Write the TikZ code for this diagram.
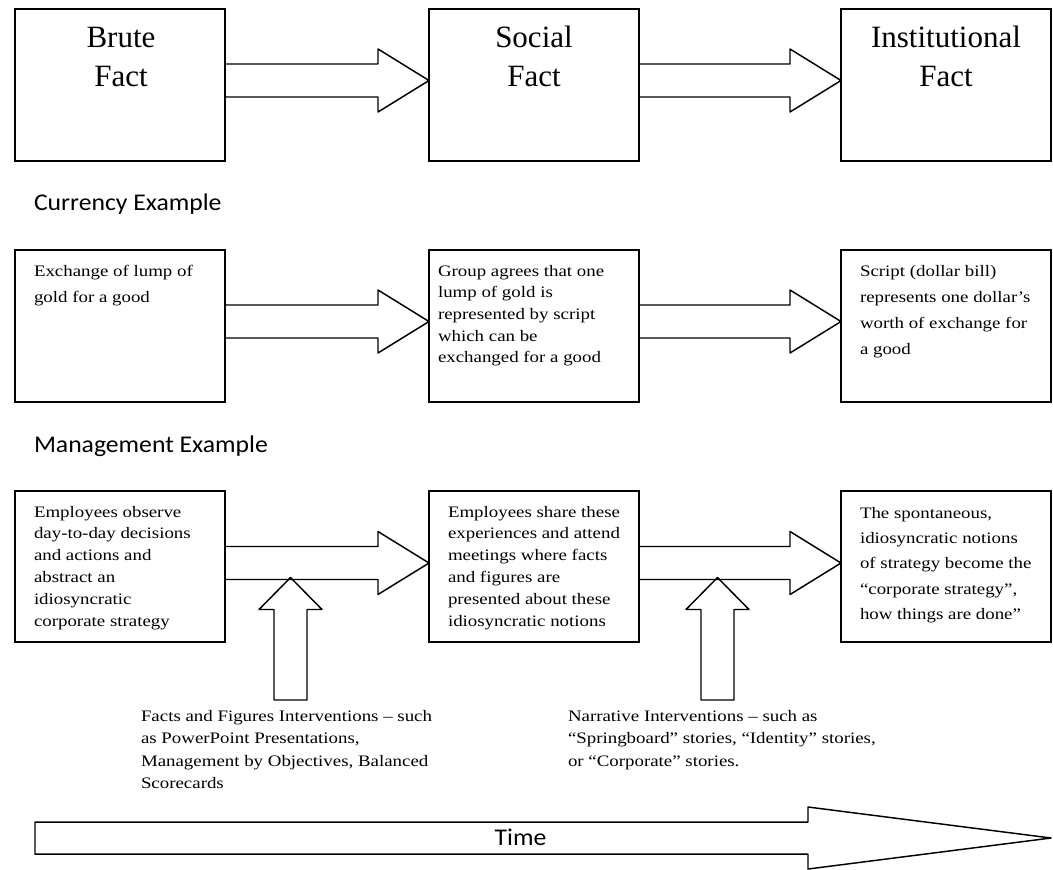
\documentclass[tikz,border=0pt]{standalone}
\usepackage{fontspec}
\setmainfont{Liberation Serif}
\newfontfamily\bodyfont[FakeStretch=1.18]{Liberation Serif}
\newfontfamily\titlefont{Liberation Serif}
\newfontfamily\labelfont[FakeStretch=1.07]{Carlito}
\usetikzlibrary{calc}
% horizontal block arrow from #1 to #2 (same height)
\newcommand\blockarrowH[2]{%
  \draw[barrow] ($(#1)+(0,-16.5)$) -- ($(#2)+(-51,-16.5)$) -- ($(#2)+(-51,-31.5)$)
    -- (#2) -- ($(#2)+(-51,31.5)$) -- ($(#2)+(-51,16.5)$) -- ($(#1)+(0,16.5)$);}
% vertical block arrow from foot #1 up to tip #2
\newcommand\blockarrowV[2]{%
  \draw[barrow] (#2) -- ($(#2)+(31.5,32)$) -- ($(#2)+(16.5,32)$) -- ($(#1)+(16.5,0)$)
    -- ($(#1)+(-16.5,0)$) -- ($(#2)+(-16.5,32)$) -- ($(#2)+(-31.5,32)$) -- cycle;}
\newcommand\bodytext[2]{\parbox[t]{300pt}{\bodyfont\fontsize{12pt}{#1}\selectfont #2}}
\newcommand\titletext[1]{\parbox[t]{157.5pt}{\centering\titlefont\fontsize{23.25pt}{29.25pt}\selectfont #1}}
\begin{document}
\begin{tikzpicture}[x=0.75pt,y=-0.75pt,
  box/.style={draw, line width=1.1pt, inner sep=0pt, outer sep=0pt, anchor=north west,
    minimum width=157.5pt, minimum height=114pt},
  barrow/.style={draw, line width=1.1pt, line join=round},
  btxt/.style={anchor=base west, inner sep=0pt, outer sep=0pt},
  ttxt/.style={anchor=base, inner sep=0pt, outer sep=0pt},
  lab/.style={inner sep=0pt, outer sep=0pt, font=\labelfont\fontsize{18pt}{22pt}\selectfont}]
\useasboundingbox (0,0) rectangle (1053,869);

% ---- top row
\node[box] (b1) at (15,9) {};
\node[box] (b2) at (429,9) {};
\node[box] (b3) at (841,9) {};
\node[ttxt] (b1t) at (121,47) {\titletext{Brute\\Fact}};
\node[ttxt] (b2t) at (534,47) {\titletext{Social\\Fact}};
\node[ttxt] (b3t) at (946,47) {\titletext{Institutional\\Fact}};
\coordinate (t12s) at ($(b1.east)+(0,-4.5)$);
\coordinate (t12e) at ($(b2.west)+(0,-4.5)$);
\coordinate (t23s) at ($(b2.east)+(0,-4.5)$);
\coordinate (t23e) at ($(b3.west)+(0,-4.5)$);
\blockarrowH{t12s}{t12e}
\blockarrowH{t23s}{t23e}

% ---- currency row
\node[lab, anchor=base west] (cur) at (34,210) {Currency Example};
\node[box] (m1) at (15,250) {};
\node[box] (m2) at (429,250) {};
\node[box] (m3) at (841,250) {};
\node[btxt] (m1t) at (34,276) {\bodytext{19.5pt}{Exchange of lump of\\gold for a good}};
\node[btxt] (m2t) at (438,276) {\bodytext{16.3pt}{Group agrees that one\\lump of gold is\\represented by script\\which can be\\exchanged for a good}};
\node[btxt] (m3t) at (860,276) {\bodytext{19.5pt}{Script (dollar bill)\\represents one dollar’s\\worth of exchange for\\a good}};
\coordinate (m12s) at ($(m1.east)+(0,-4.5)$);
\coordinate (m12e) at ($(m2.west)+(0,-4.5)$);
\coordinate (m23s) at ($(m2.east)+(0,-4.5)$);
\coordinate (m23e) at ($(m3.west)+(0,-4.5)$);
\blockarrowH{m12s}{m12e}
\blockarrowH{m23s}{m23e}

% ---- management row
\node[lab, anchor=base west] (mgt) at (34,452) {Management Example};
\node[box, minimum height=113.25pt] (n1) at (15,491) {};
\node[box, minimum height=113.25pt] (n2) at (429,491) {};
\node[box, minimum height=113.25pt] (n3) at (841,491) {};
\node[btxt] (n1t) at (34,517) {\bodytext{16.35pt}{Employees observe\\day-to-day decisions\\and actions and\\abstract an\\idiosyncratic\\corporate strategy}};
\node[btxt] (n2t) at (448,517) {\bodytext{16.35pt}{Employees share these\\experiences and attend\\meetings where facts\\and figures are\\presented about these\\idiosyncratic notions}};
\node[btxt] (n3t) at (860,518) {\bodytext{19.1pt}{The spontaneous,\\idiosyncratic notions\\of strategy become the\\“corporate strategy”,\\how things are done”}};
\coordinate (n12s) at ($(n1.east)+(0,-3.5)$);
\coordinate (n12e) at ($(n2.west)+(0,-3.5)$);
\coordinate (n23s) at ($(n2.east)+(0,-3.5)$);
\coordinate (n23e) at ($(n3.west)+(0,-3.5)$);
\blockarrowH{n12s}{n12e}
\blockarrowH{n23s}{n23e}

% ---- interventions
\coordinate (n12low) at ($(n12s)+(0,14.5)$);
\coordinate (n23low) at ($(n23s)+(0,14.5)$);
\coordinate (f1) at (290.5,700);
\coordinate (f2) at (717.5,700);
\coordinate (f1t) at (f1 |- n12low);
\coordinate (f2t) at (f2 |- n23low);
\blockarrowV{f1}{f1t}
\blockarrowV{f2}{f2t}
\node[btxt] (facts) at (141,721) {\bodytext{16.9pt}{Facts and Figures Interventions – such\\as PowerPoint Presentations,\\Management by Objectives, Balanced\\Scorecards}};
\node[btxt] (narr) at (568,721) {\bodytext{16.9pt}{Narrative Interventions – such as\\“Springboard” stories, “Identity” stories,\\or “Corporate” stories.}};

% ---- time arrow
\coordinate (ts) at (35,838);
\coordinate (te) at (1051,838);
\draw[barrow] ($(ts)+(0,-16)$) -- ($(te)+(-243,-16)$) -- ($(te)+(-243,-31)$) -- (te)
  -- ($(te)+(-243,31)$) -- ($(te)+(-243,16)$) -- ($(ts)+(0,16)$) -- cycle;
\node[lab, anchor=base] (time) at (520.5,845) {Time};
\end{tikzpicture}
\end{document}
